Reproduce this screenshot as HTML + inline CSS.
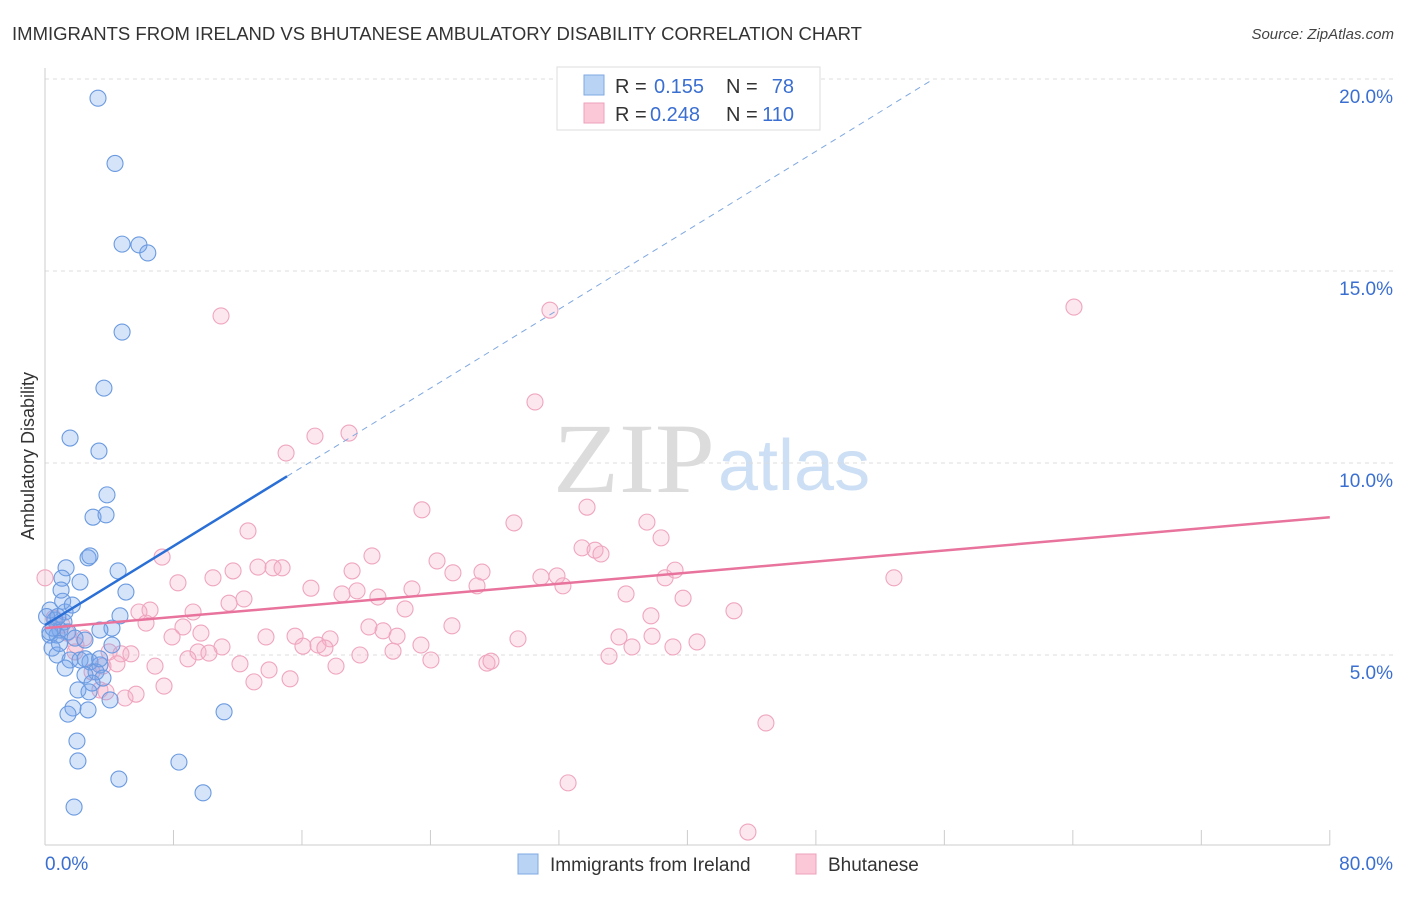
<!DOCTYPE html>
<html><head><meta charset="utf-8">
<style>
body{margin:0;background:#fff;font-family:"Liberation Sans",sans-serif;}
svg text{font-family:"Liberation Sans",sans-serif;}
</style></head>
<body>
<svg id="chart" width="1406" height="892" xmlns="http://www.w3.org/2000/svg">
<text x="12" y="40" font-size="18" fill="#333" textLength="850" lengthAdjust="spacingAndGlyphs">IMMIGRANTS FROM IRELAND VS BHUTANESE AMBULATORY DISABILITY CORRELATION CHART</text>
<text x="1394" y="39" font-size="15" fill="#444" text-anchor="end" font-style="italic">Source: ZipAtlas.com</text>
<g>
<text x="553" y="492" font-size="100" fill="#dcdcdc" style="font-family:'Liberation Serif',serif" textLength="162" lengthAdjust="spacingAndGlyphs">ZIP</text>
<text x="718" y="490" font-size="72" fill="#cddff4">atlas</text>
</g>
<g id="grid"></g>
<g id="axes"></g>
<g id="pink"></g>
<g id="blue"></g>
<g id="lines"></g>
<text transform="translate(34,456) rotate(-90)" font-size="18" fill="#333" text-anchor="middle">Ambulatory Disability</text>
<g>
<rect x="557" y="67" width="263" height="63" fill="#fff" stroke="#ddd"/>
<rect x="584" y="75" width="20" height="20" fill="#b9d3f5" stroke="#7fa8e0"/>
<rect x="584" y="103" width="20" height="20" fill="#fbc8d8" stroke="#eea0bb"/>
<text x="615" y="93" font-size="20" fill="#333">R =</text>
<text x="654" y="93" font-size="20" fill="#3a6fd1">0.155</text>
<text x="726" y="93" font-size="20" fill="#333">N =</text>
<text x="794" y="93" font-size="20" fill="#3a6fd1" text-anchor="end">78</text>
<text x="615" y="121" font-size="20" fill="#333">R =</text>
<text x="650" y="121" font-size="20" fill="#3a6fd1">0.248</text>
<text x="726" y="121" font-size="20" fill="#333">N =</text>
<text x="794" y="121" font-size="20" fill="#3a6fd1" text-anchor="end">110</text>
</g>
<g>
<rect x="518" y="854" width="20" height="20" fill="#b9d3f5" stroke="#7fa8e0"/>
<text x="550" y="871" font-size="19" fill="#333">Immigrants from Ireland</text>
<rect x="796" y="854" width="20" height="20" fill="#fbc8d8" stroke="#eea0bb"/>
<text x="828" y="871" font-size="19" fill="#333">Bhutanese</text>
</g>
</svg>
<script>
const blueX=[3.3,4.36,4.8,5.85,6.4,4.8,3.67,1.56,3.36,3.86,2.99,3.8,2.68,2.8,1.31,2.18,4.55,1.06,5.04,1.0,0.31,1.25,0.62,1.18,0.93,0.31,0.75,1.43,4.67,4.17,3.42,4.17,0.44,1.87,2.49,0.75,1.56,1.25,2.18,2.8,3.42,3.18,3.61,2.49,2.93,2.05,2.74,4.05,2.68,1.74,1.43,11.15,1.99,2.05,8.34,4.6,1.81,9.84,0.3,0.5,0.9,2.5,3.4,0.1,0.8,1.1,1.7];
const blueY=[19.5,17.8,15.7,15.68,15.47,13.41,11.95,10.65,10.31,9.17,8.59,8.65,7.53,7.58,7.27,6.9,7.19,7.0,6.64,6.69,6.17,6.12,5.91,5.86,5.65,5.52,5.52,5.6,6.02,5.7,5.65,5.26,5.18,5.44,5.39,5.0,4.87,4.66,4.87,4.82,4.74,4.56,4.4,4.48,4.27,4.09,4.04,3.83,3.57,3.62,3.46,3.52,2.76,2.24,2.21,1.77,1.04,1.41,5.6,5.7,5.3,4.9,4.9,6.0,6.0,6.4,6.3];
const pinkX=[10.96,31.44,64.07,30.51,18.93,16.81,15.01,23.47,29.2,33.75,37.48,12.64,38.36,7.29,20.36,24.41,33.44,34.25,34.62,13.26,14.2,14.76,11.71,19.12,25.4,27.21,30.88,31.88,38.61,39.23,52.86,0,8.28,10.46,16.56,18.49,19.43,20.73,22.85,26.9,32.25,36.18,39.73,12.39,11.46,6.54,5.85,9.22,22.42,37.73,42.9,6.29,8.59,7.91,9.71,20.17,21.05,25.34,21.92,13.76,15.57,17.75,16.06,17.0,29.45,35.74,37.8,40.6,0.56,1.06,1.37,1.93,2.43,11.02,9.53,10.21,17.43,19.61,21.67,23.41,36.55,39.1,3.99,4.73,5.35,1.87,8.9,6.85,12.14,13.95,18.12,24.03,27.52,27.77,35.12,3.61,4.48,2.93,3.42,3.8,4.98,5.67,7.41,13.01,15.26,44.89,32.57,43.77];
const pinkY=[13.83,13.98,14.06,11.59,10.78,10.7,10.26,8.78,8.44,8.85,8.46,8.23,8.05,7.55,7.58,7.45,7.79,7.73,7.63,7.29,7.27,7.27,7.19,7.19,7.14,7.16,7.03,7.06,7.01,7.21,7.01,7.01,6.88,7.01,6.74,6.59,6.67,6.51,6.72,6.8,6.8,6.59,6.48,6.46,6.35,6.17,6.12,6.12,6.2,6.02,6.15,5.83,5.73,5.47,5.57,5.73,5.63,5.76,5.49,5.47,5.49,5.42,5.23,5.26,5.42,5.47,5.49,5.34,5.96,5.78,5.57,5.26,5.44,5.21,5.08,5.05,5.18,5.0,5.1,5.26,5.21,5.21,5.08,5.03,5.03,5.08,4.9,4.71,4.77,4.61,4.71,4.87,4.79,4.84,4.97,4.71,4.77,4.56,4.09,4.04,3.88,3.98,4.19,4.3,4.38,3.23,1.67,0.39];
const yTicks=[5,10,15,20];
const yTickLabels=["5.0%","10.0%","15.0%","20.0%"];
const blueTrend=[5.78,0.257];
const pinkTrend=[5.70,0.0361];
const NS="http://www.w3.org/2000/svg";
const xs=v=>45+v*16.06, ys=v=>847-v*38.4;
function mk(tag,parent,attrs){const e=document.createElementNS(NS,tag);for(const k in attrs)e.setAttribute(k,attrs[k]);parent.appendChild(e);return e;}
const grid=document.getElementById('grid'),axes=document.getElementById('axes');
yTicks.forEach((t,i)=>{
 const l=mk('line',grid,{x1:45,x2:1393,y1:ys(t),y2:ys(t),stroke:'#ddd','stroke-dasharray':'4,4'});
 
 
 const tx=mk('text',axes,{x:1393,y:ys(t)+24,'font-size':19,fill:'#3a6fd1','text-anchor':'end'});
 
 
 tx.textContent=yTickLabels[i];
});
mk('line',axes,{x1:45,x2:45,y1:68,y2:845,stroke:'#ccc'});
mk('line',axes,{x1:45,x2:1330,y1:845,y2:845,stroke:'#ccc'});
for(let v=0;v<=80;v+=8){mk('line',axes,{x1:xs(v),x2:xs(v),y1:830,y2:845,stroke:'#ccc'});}
let t0=mk('text',axes,{x:45,y:870,'font-size':19,fill:'#3a6fd1'});t0.textContent="0.0%";


let t1=mk('text',axes,{x:1393,y:870,'font-size':19,fill:'#3a6fd1','text-anchor':'end'});t1.textContent="80.0%";


const pg=document.getElementById('pink');
pinkX.forEach((x,i)=>{const c=mk('circle',pg,{cx:xs(x),cy:ys(pinkY[i]),r:8,fill:'rgba(246,175,200,0.3)',stroke:'#efa5bf','stroke-width':1.1});
 
 });
const bg=document.getElementById('blue');
blueX.forEach((x,i)=>{const c=mk('circle',bg,{cx:xs(x),cy:ys(blueY[i]),r:8,fill:'rgba(120,165,235,0.3)',stroke:'#6a9ae0','stroke-width':1.1});
 
 });
const lg=document.getElementById('lines');
const bl=mk('line',lg,{x1:xs(0),y1:ys(blueTrend[0]),x2:xs(15.07),y2:ys(blueTrend[0]+blueTrend[1]*15.07),stroke:'#2a6fd6','stroke-width':2.5});


const xe=(20-blueTrend[0])/blueTrend[1];
const bd=mk('line',lg,{x1:xs(15.07),y1:ys(blueTrend[0]+blueTrend[1]*15.07),x2:xs(xe),y2:ys(20),stroke:'#7fa8e0','stroke-width':1,'stroke-dasharray':'6,5'});


const pl=mk('line',lg,{x1:xs(0),y1:ys(pinkTrend[0]),x2:xs(80),y2:ys(pinkTrend[0]+pinkTrend[1]*80),stroke:'#e8739c','stroke-width':2.5});


</script>
</body></html>
